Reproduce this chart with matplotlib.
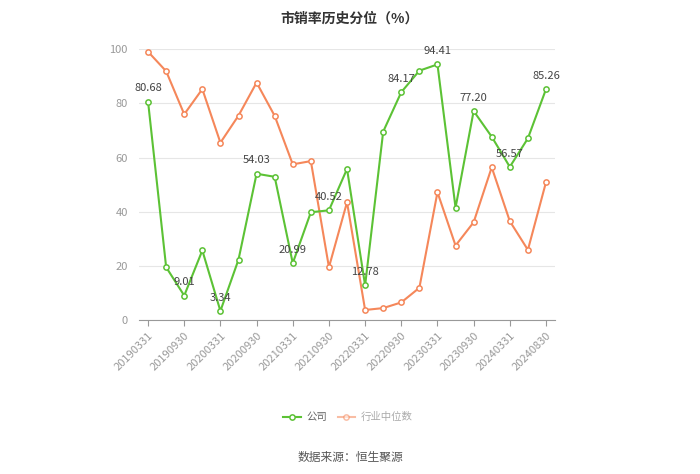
import numpy as np
import matplotlib
matplotlib.use("Agg")
import matplotlib.pyplot as plt

plt.rcParams['font.family'] = ['Noto Sans CJK SC', 'DejaVu Sans']

dates = ['20190331', '20190630', '20190930', '20191231', '20200331', '20200630',
         '20200930', '20201231', '20210331', '20210630', '20210930', '20211231',
         '20220331', '20220630', '20220930', '20221231', '20230331', '20230630',
         '20230930', '20231231', '20240331', '20240630', '20240830']
company = [80.68, 19.5, 9.01, 25.7, 3.34, 22.3, 54.03, 52.9, 20.99, 39.8, 40.52, 55.8,
           12.78, 69.6, 84.17, 92.1, 94.41, 41.5, 77.20, 67.7, 56.57, 67.1, 85.26]
industry = [99.1, 91.9, 76.0, 85.3, 65.5, 75.5, 87.7, 75.4, 57.5, 58.7, 19.5, 43.5,
            3.7, 4.4, 6.5, 11.9, 47.2, 27.5, 36.1, 56.4, 36.5, 25.9, 50.9]

green = '#5cc235'
orange = '#f5875a'

fig = plt.figure(figsize=(7, 4.74), dpi=100)
ax = fig.add_axes([0.1986, 0.3249, 0.5943, 0.5711])

x = np.arange(len(dates))
ax.plot(x, company, color=green, lw=1.5, marker='o', ms=3.8, mfc='white', mew=1.1, zorder=3, label='公司')
ax.plot(x, industry, color=orange, lw=1.5, marker='o', ms=3.8, mfc='white', mew=1.1, zorder=2, label='行业中位数')

for i in range(0, len(dates), 2):
    ax.annotate('%.2f' % company[i], (x[i], company[i]), xytext=(0, 6), textcoords='offset points',
                ha='center', va='bottom', fontsize=8, color='#444444', zorder=4)

ax.set_xlim(-0.5, len(dates) - 0.5)
ax.set_ylim(0, 100)
ax.set_yticks([0, 20, 40, 60, 80, 100])
ax.set_xticks(x[::2])
ax.set_xticklabels(dates[::2], rotation=45, ha='right', rotation_mode='anchor')
ax.tick_params(axis='x', colors='#999999', labelsize=8, length=4, color='#999999')
ax.tick_params(axis='y', colors='#999999', labelsize=8, length=0, pad=8)
ax.grid(axis='y', color='#e6e6e6', lw=0.8)
ax.set_axisbelow(True)
for s in ['top', 'right', 'left']:
    ax.spines[s].set_visible(False)
ax.spines['bottom'].set_color('#999999')

fig.text(0.5, 0.975, '市销率历史分位（%）', ha='center', va='top', fontsize=10, fontweight='bold', color='#333333')
leg = fig.legend(loc='center', bbox_to_anchor=(0.497, 0.12), ncol=2, frameon=False, fontsize=7.5,
                 handlelength=1.7, handletextpad=0.5, columnspacing=1.0)
texts = leg.get_texts()
texts[0].set_color('#666666')
texts[1].set_color('#aaaaaa')
leg.legend_handles[1].set_alpha(0.55)
fig.text(0.5, 0.035, '数据来源：恒生聚源', ha='center', va='center', fontsize=8.5, color='#555555')

fig.savefig('out.png', dpi=100)
